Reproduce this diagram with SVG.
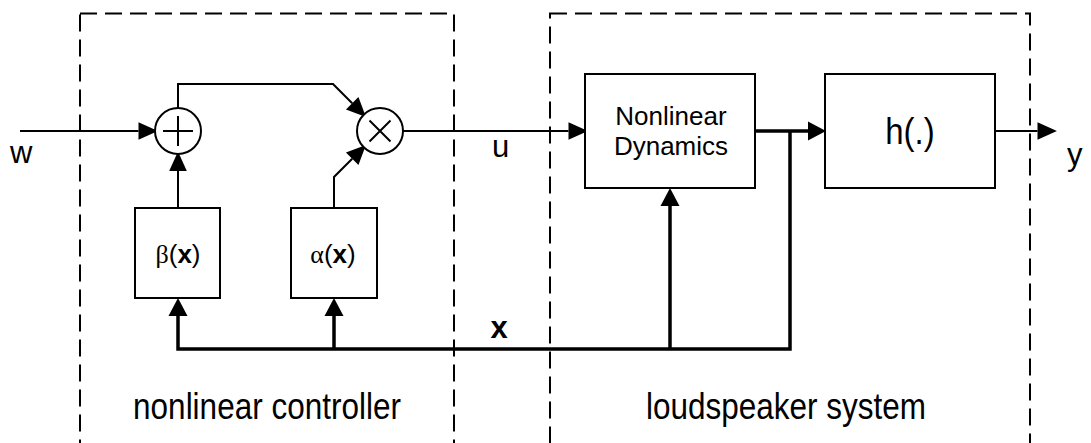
<svg xmlns="http://www.w3.org/2000/svg" width="1091" height="443" viewBox="0 0 1091 443">
<style>
.frame{fill:none;stroke:#000;stroke-width:2;stroke-dasharray:17 8}
.box{fill:#fff;stroke:#000;stroke-width:2}
.op{fill:#fff;stroke:#000;stroke-width:2}
.sym{fill:none;stroke:#000;stroke-width:2}
.thin{fill:none;stroke:#000;stroke-width:2}
.thick{fill:none;stroke:#000;stroke-width:3.5}
text{font-family:"Liberation Sans",Arial,sans-serif;fill:#000}
.lbl{font-size:31px}
.big{font-size:31.5px;text-anchor:middle}
.inbox{font-size:26px;text-anchor:middle}
.greek{font-family:"Liberation Serif","Times New Roman",serif}
</style>
<defs>
<marker id="a1" markerUnits="userSpaceOnUse" markerWidth="20" markerHeight="20" viewBox="0 -8 17 16" refX="0" refY="0" orient="auto" overflow="visible">
<path d="M0,-7.5 L16.5,0 L0,7.5 z" fill="#000"/>
</marker>
<marker id="a2" markerUnits="userSpaceOnUse" markerWidth="20" markerHeight="20" viewBox="0 -10 18 20" refX="0" refY="0" orient="auto" overflow="visible">
<path d="M0,-9.5 L18,0 L0,9.5 z" fill="#000"/>
</marker>
</defs>

<g id="frames">
<rect class="frame" x="80" y="13.5" width="374" height="460"/>
<rect class="frame" x="550" y="13.5" width="480" height="460"/>
</g>

<g id="connectors">
<path class="thin" d="M20,131 H138.5" marker-end="url(#a1)"/>
<path class="thin" d="M178,208 V171" marker-end="url(#a1)"/>
<path class="thin" d="M178,108 V84 H333 L352.2,103.2" marker-end="url(#a1)"/>
<path class="thin" d="M334,208 V177 L352.2,158.8" marker-end="url(#a1)"/>
<path class="thin" d="M403,131 H568.5" marker-end="url(#a1)"/>
<path class="thick" d="M755,131 H808" marker-end="url(#a2)"/>
<path class="thin" d="M995,131 H1037.5" marker-end="url(#a1)"/>
<path class="thick" d="M790,131 V349 H178 V316" marker-end="url(#a2)"/>
<path class="thick" d="M334,349 V316" marker-end="url(#a2)"/>
<path class="thick" d="M670,349 V206" marker-end="url(#a2)"/>
</g>

<g id="sum">
<circle class="op" cx="178" cy="131" r="23"/>
<path class="sym" d="M163,131 H193 M178,116 V146"/>
</g>
<g id="mult">
<circle class="op" cx="380" cy="131" r="23"/>
<path class="sym" d="M369.5,120.5 L390.5,141.5 M390.5,120.5 L369.5,141.5"/>
</g>
<g id="beta">
<rect class="box" x="135" y="208" width="85" height="90"/>
<text class="inbox" x="178" y="263"><tspan class="greek">β</tspan>(<tspan font-weight="bold">x</tspan>)</text>
</g>
<g id="alpha">
<rect class="box" x="291" y="208" width="86" height="90"/>
<text class="inbox" x="333" y="263"><tspan class="greek">α</tspan>(<tspan font-weight="bold">x</tspan>)</text>
</g>
<g id="dynamics">
<rect class="box" x="585" y="74" width="170" height="114"/>
<text class="inbox" x="671" y="125">Nonlinear</text>
<text class="inbox" x="671" y="155">Dynamics</text>
</g>
<g id="h">
<rect class="box" x="825" y="74" width="170" height="114"/>
<text font-size="33" text-anchor="middle" transform="translate(910,144) scale(1,1.12)">h(.)</text>
</g>

<g id="labels">
<text class="lbl" x="10" y="163">w</text>
<text class="lbl" x="492" y="157">u</text>
<text class="lbl" x="1067" y="165">y</text>
<text class="lbl" x="499" y="338" font-weight="bold" text-anchor="middle">x</text>
<text class="big" transform="translate(267,419) scale(1,1.15)">nonlinear controller</text>
<text class="big" transform="translate(786,419) scale(1,1.15)">loudspeaker system</text>
</g>
</svg>
